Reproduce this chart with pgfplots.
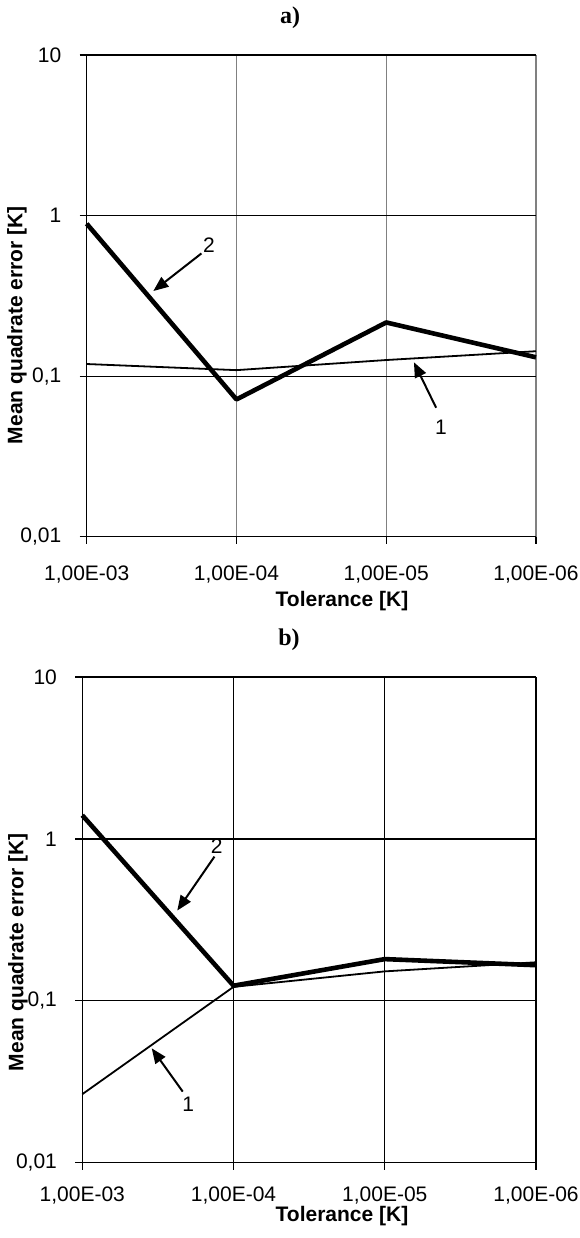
\documentclass[border=0pt]{standalone}
\usepackage{fontspec}
\setmainfont{Liberation Sans}
\newfontfamily\serifbold{Liberation Serif}
\usepackage{pgfplots}
\pgfplotsset{compat=1.18}
\usetikzlibrary{arrows.meta}

% 1 px of the reference = 0.5pt
\newcommand{\lbl}{\fontsize{10.5}{12.6}\selectfont}

\tikzset{
  thinline/.style={black, line width=0.9pt},
  thickline/.style={black, line width=2.3pt, line join=round},
  pointer/.style={black, line width=1pt, -{Triangle[length=7.5pt,width=6pt]}},
}

\pgfplotsset{
  every axis/.append style={
    scale only axis,
    ymode=log,
    ymin=0.01, ymax=10,
    xmin=0, xmax=3,
    xtick={0,1,2,3},
    xticklabels={{1,00E-03},{1,00E-04},{1,00E-05},{1,00E-06}},
    ytick={0.01,0.1,1,10},
    yticklabels={{0,01},{0,1},{1},{10}},
    yminorticks=false,
    axis lines=left,
    axis line style={-, black, line width=0.6pt},
    tick pos=left,
    tick align=outside,
    major tick length=3.5pt,
    tick style={black, line width=0.6pt},
    grid=major,
    y grid style={black, line width=0.6pt},
    tick label style={font=\lbl},
    yticklabel style={anchor=east, inner sep=0pt, xshift=-9pt},
    clip=false,
  },
}

\begin{document}
\begin{tikzpicture}
\useasboundingbox (0,0) rectangle (289.5pt,-619pt);

% ---------- a) ----------
\node[font=\serifbold\fontsize{12}{14}\selectfont\bfseries] at (145pt,-9pt) {a)};
\begin{axis}[
    anchor=south west,
    at={(43.35pt,-268.35pt)},
    width=224.65pt, height=240.85pt,
    xticklabel style={anchor=center, yshift=-15.5pt},
    x grid style={gray, line width=0.6pt}]
  % krzywa 1
  \addplot[thinline] coordinates {(0,0.119) (1,0.109) (2,0.126) (3,0.143)};
  % krzywa 2
  \addplot[thickline] coordinates {(0,0.89) (1,0.0716) (2,0.216) (3,0.131)};
  \draw[pointer] (axis cs:0.766,0.581) -- (axis cs:0.445,0.339);
  \node[font=\lbl] at (axis cs:0.816,0.658) {2};
  \draw[pointer] (axis cs:2.333,0.0636) -- (axis cs:2.185,0.122);
  \node[font=\lbl] at (axis cs:2.365,0.0479) {1};
\end{axis}
\node[font=\lbl\bfseries] at (171pt,-300.5pt) {Tolerance [K]};
\node[font=\lbl\bfseries, rotate=90] at (8.5pt,-162.5pt) {Mean quadrate error [K]};

% ---------- b) ----------
\node[font=\serifbold\fontsize{12}{14}\selectfont\bfseries] at (144.5pt,-320pt) {b)};
\begin{axis}[
    anchor=south west,
    at={(41.15pt,-581.35pt)},
    width=226.85pt, height=242.85pt,
    xticklabel style={anchor=center, yshift=-13pt},
    x grid style={black, line width=0.6pt}]
  \addplot[thinline] coordinates {(0,0.0265) (1,0.122) (2,0.152) (3,0.173)};
  \addplot[thickline] coordinates {(0,1.40) (1,0.124) (2,0.181) (3,0.166)};
  \draw[pointer] (axis cs:0.874,0.778) -- (axis cs:0.628,0.361);
  \node[font=\lbl] at (axis cs:0.889,0.896) {2};
  \draw[pointer] (axis cs:0.664,0.0275) -- (axis cs:0.459,0.0509);
  \node[font=\lbl] at (axis cs:0.701,0.0228) {1};
\end{axis}
\node[font=\lbl\bfseries] at (171pt,-608pt) {Tolerance [K]};
\node[font=\lbl\bfseries, rotate=90] at (9pt,-476pt) {Mean quadrate error [K]};
\end{tikzpicture}
\end{document}
